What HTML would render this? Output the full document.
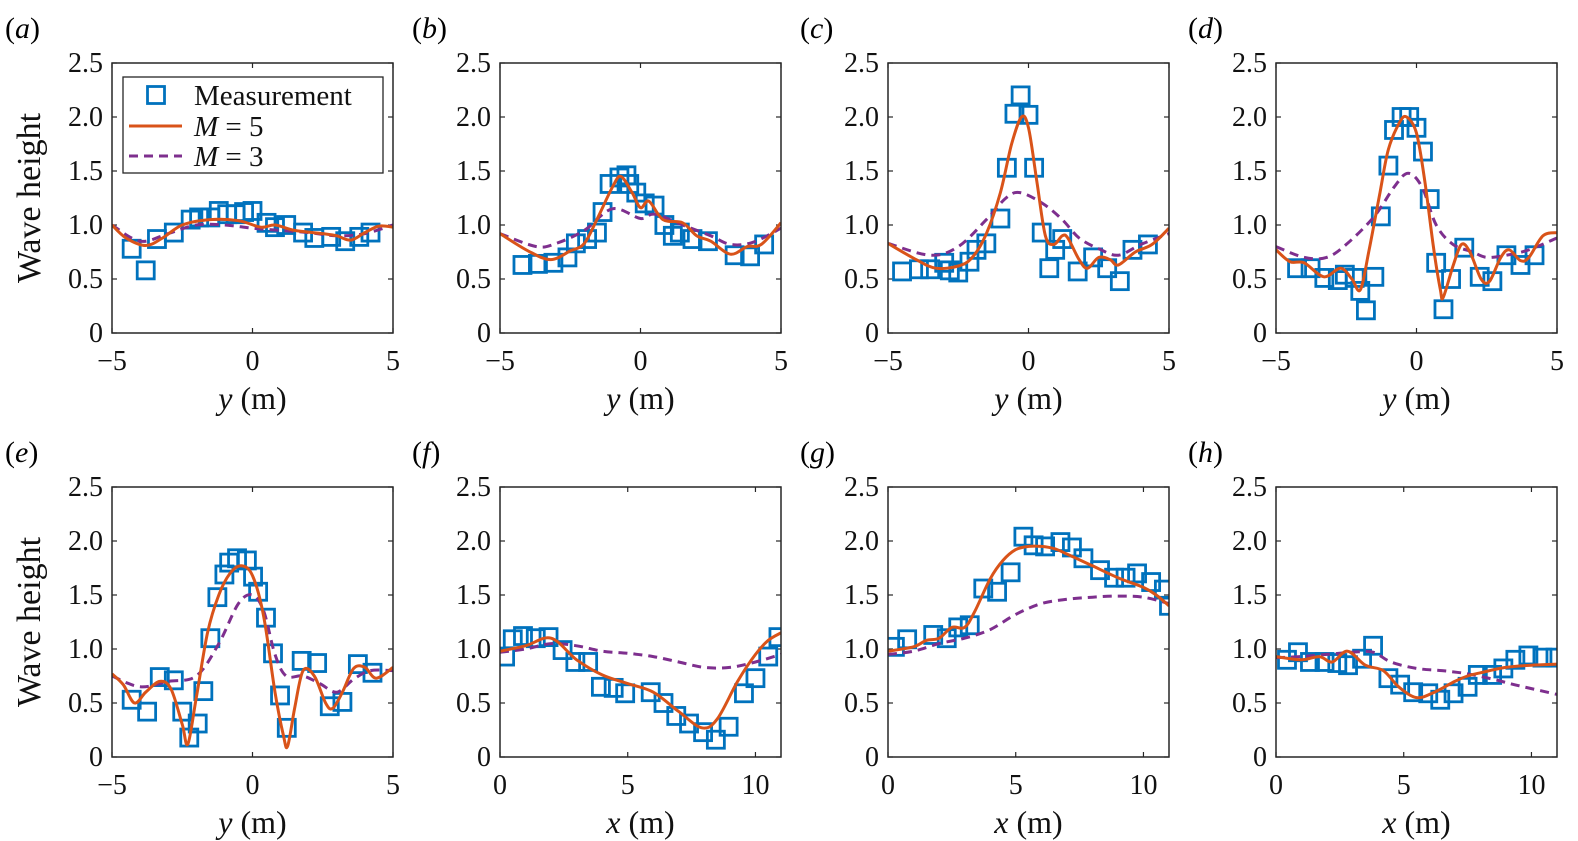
<!DOCTYPE html>
<html><head><meta charset="utf-8"><style>
body{margin:0;background:#fff;}
svg{display:block;}
svg text{font-family:"Liberation Serif","Times New Roman",Times,"DejaVu Serif",serif;}
</style></head><body>
<svg id="fig" width="1578" height="841" viewBox="0 0 1578 841" xmlns="http://www.w3.org/2000/svg"></svg>
<script>
// ---- data ----
const panelIds = ['a','b','c','d','e','f','g','h'];
const measA = [[-4.3,0.78],[-3.8,0.58],[-3.4,0.87],[-2.8,0.93],[-2.2,1.05],[-1.9,1.07],[-1.5,1.07],[-1.2,1.13],[-0.9,1.1],[-0.6,1.1],[-0.3,1.12],[0,1.13],[0.5,1.02],[0.8,0.98],[1.2,1.0],[1.8,0.93],[2.2,0.88],[2.8,0.89],[3.3,0.85],[3.8,0.89],[4.2,0.93]];
const m5A = [[-5,1.0],[-4.5,0.88],[-3.8,0.81],[-3.2,0.88],[-2.5,1.0],[-1.5,1.05],[-0.5,1.04],[0.3,0.98],[0.8,1.0],[1.5,0.95],[2.5,0.92],[3.0,0.9],[3.5,0.86],[4.0,0.93],[4.5,0.99],[5,0.98]];
const m3A = [[-5,1.0],[-4,0.85],[-3,0.92],[-2,1.0],[-1,1.0],[0,0.97],[1,0.95],[2,0.93],[3,0.9],[4,0.92],[5,1.0]];
const measB = [[-4.2,0.63],[-3.65,0.64],[-3.1,0.65],[-2.6,0.7],[-2.3,0.83],[-1.9,0.87],[-1.55,0.93],[-1.35,1.12],[-1.1,1.38],[-0.75,1.44],[-0.5,1.46],[-0.4,1.38],[-0.15,1.3],[0.15,1.2],[0.5,1.18],[0.85,1.0],[1.15,0.9],[1.4,0.93],[1.85,0.87],[2.4,0.85],[3.35,0.72],[3.9,0.71],[4.4,0.82]];
const m5B = [[-5,0.92],[-4,0.76],[-3.2,0.68],[-2.5,0.76],[-2,0.83],[-1.5,1.08],[-1,1.35],[-0.7,1.45],[-0.3,1.3],[0,1.16],[0.3,1.22],[0.8,1.05],[1.5,1.02],[2,0.9],[2.5,0.85],[3.2,0.73],[3.8,0.8],[4.3,0.82],[5,1.02]];
const m3B = [[-5,0.92],[-3.7,0.8],[-3,0.83],[-2,0.95],[-1,1.15],[0,1.06],[0.5,1.1],[1.5,1.0],[2.5,0.9],[3.2,0.82],[4,0.84],[5,0.97]];
const measC = [[-4.5,0.57],[-3.9,0.59],[-3.5,0.59],[-3.0,0.65],[-2.8,0.58],[-2.5,0.56],[-2.1,0.66],[-1.85,0.77],[-1.5,0.83],[-1.0,1.06],[-0.77,1.53],[-0.5,2.03],[-0.28,2.2],[0,2.02],[0.2,1.53],[0.47,0.93],[0.74,0.6],[0.95,0.77],[1.2,0.87],[1.75,0.57],[2.3,0.7],[2.8,0.6],[3.25,0.48],[3.7,0.77],[4.25,0.82]];
const m5C = [[-5,0.83],[-4,0.68],[-3.3,0.6],[-2.5,0.62],[-2,0.7],[-1.5,0.92],[-1,1.3],[-0.6,1.75],[-0.25,2.0],[0,1.9],[0.3,1.4],[0.6,0.9],[0.9,0.82],[1.2,0.9],[1.4,0.88],[1.8,0.68],[2.1,0.6],[2.5,0.7],[2.9,0.68],[3.2,0.63],[3.8,0.75],[4.4,0.82],[5,0.97]];
const m3C = [[-5,0.83],[-3.5,0.72],[-2.5,0.8],[-1.5,1.05],[-0.8,1.25],[-0.3,1.3],[0.5,1.2],[1.2,1.05],[1.8,0.88],[2.5,0.78],[3.2,0.72],[4,0.82],[5,0.92]];
const measD = [[-4.25,0.6],[-3.77,0.6],[-3.28,0.51],[-2.8,0.49],[-2.55,0.54],[-2.2,0.51],[-2.0,0.39],[-1.8,0.21],[-1.5,0.52],[-1.27,1.08],[-1.0,1.55],[-0.8,1.88],[-0.53,2.0],[-0.26,2.0],[0,1.9],[0.23,1.68],[0.47,1.24],[0.7,0.65],[0.96,0.22],[1.23,0.5],[1.7,0.79],[2.25,0.52],[2.7,0.48],[3.2,0.72],[3.7,0.63],[4.2,0.72]];
const m5D = [[-5,0.77],[-4.5,0.66],[-4,0.65],[-3.3,0.52],[-2.7,0.6],[-2.3,0.5],[-2,0.4],[-1.7,0.75],[-1.3,1.3],[-1,1.7],[-0.6,1.95],[-0.35,2.0],[0,1.85],[0.3,1.4],[0.6,0.8],[0.85,0.4],[0.95,0.33],[1.3,0.62],[1.6,0.82],[1.9,0.75],[2.3,0.5],[2.6,0.48],[3.0,0.7],[3.3,0.77],[3.7,0.67],[4.0,0.7],[4.5,0.9],[5,0.93]];
const m3D = [[-5,0.8],[-4,0.7],[-3.2,0.7],[-2.5,0.82],[-1.5,1.08],[-0.8,1.35],[-0.3,1.48],[0.2,1.35],[0.7,1.0],[1.3,0.82],[2,0.75],[2.5,0.7],[3.2,0.72],[4,0.77],[5,0.88]];
const measE = [[-4.3,0.53],[-3.75,0.42],[-3.3,0.74],[-2.8,0.71],[-2.5,0.42],[-2.25,0.18],[-1.95,0.31],[-1.75,0.61],[-1.5,1.1],[-1.25,1.48],[-1.0,1.69],[-0.83,1.8],[-0.55,1.84],[-0.2,1.82],[0.02,1.67],[0.2,1.53],[0.48,1.29],[0.73,0.96],[0.98,0.57],[1.22,0.27],[1.75,0.89],[2.3,0.87],[2.75,0.47],[3.2,0.51],[3.75,0.86],[4.27,0.78]];
const m5E = [[-5,0.77],[-4.6,0.67],[-4.2,0.5],[-3.8,0.6],[-3.3,0.7],[-2.9,0.63],[-2.5,0.3],[-2.3,0.12],[-2.0,0.55],[-1.6,1.15],[-1.2,1.5],[-0.8,1.7],[-0.4,1.77],[0,1.68],[0.4,1.3],[0.8,0.6],[1.1,0.2],[1.25,0.1],[1.5,0.45],[1.8,0.8],[2.2,0.75],[2.6,0.5],[2.85,0.45],[3.2,0.6],[3.6,0.82],[4.0,0.83],[4.4,0.73],[5,0.83]];
const m3E = [[-5,0.75],[-4,0.65],[-3,0.7],[-2,0.75],[-1.2,1.05],[-0.5,1.42],[0,1.5],[0.4,1.35],[0.8,0.95],[1.2,0.75],[1.8,0.75],[2.4,0.68],[3,0.6],[3.6,0.72],[4.2,0.8],[5,0.8]];
const measF = [[0.2,0.93],[0.5,1.09],[0.9,1.12],[1.4,1.1],[1.9,1.11],[2.45,0.99],[2.95,0.88],[3.45,0.88],[3.95,0.65],[4.45,0.64],[4.9,0.59],[5.9,0.6],[6.4,0.5],[6.9,0.38],[7.4,0.31],[7.95,0.23],[8.45,0.16],[8.95,0.28],[9.55,0.59],[10,0.73],[10.5,0.93],[10.9,1.11]];
const m5F = [[0,0.98],[1,1.03],[2,1.1],[3,0.9],[4,0.76],[5,0.68],[6,0.6],[7,0.42],[7.9,0.27],[8.5,0.35],[9.3,0.7],[10,0.95],[10.5,1.08],[11,1.15]];
const m3F = [[0,0.97],[1,1.0],[2,1.05],[3,1.03],[4,0.98],[5,0.96],[6,0.93],[7,0.88],[8,0.83],[9,0.83],[10,0.88],[11,0.95]];
const measG = [[0.27,1.02],[0.75,1.09],[1.77,1.13],[2.3,1.1],[2.75,1.2],[3.2,1.22],[3.73,1.56],[4.27,1.53],[4.8,1.71],[5.3,2.04],[5.7,1.96],[6.15,1.95],[6.75,1.99],[7.2,1.94],[7.65,1.84],[8.3,1.73],[8.85,1.66],[9.3,1.66],[9.75,1.7],[10.3,1.62],[10.8,1.55],[11.0,1.4]];
const m5G = [[0,0.98],[1,1.02],[1.5,1.08],[2,1.1],[2.5,1.2],[3,1.2],[3.4,1.35],[4,1.65],[4.5,1.82],[5,1.92],[5.5,1.95],[6,1.95],[6.5,1.93],[7,1.88],[8,1.77],[9,1.66],[10,1.57],[10.5,1.5],[11,1.4]];
const m3G = [[0,0.95],[1,0.98],[2,1.05],[3,1.1],[4,1.18],[5,1.32],[6,1.42],[7,1.46],[8,1.48],[9,1.49],[10,1.48],[11,1.42]];
const measH = [[0.43,0.9],[0.86,0.97],[1.33,0.88],[1.9,0.88],[2.4,0.87],[2.82,0.85],[3.37,0.91],[3.8,1.03],[4.4,0.73],[4.86,0.67],[5.37,0.6],[5.96,0.59],[6.43,0.53],[6.95,0.59],[7.5,0.65],[7.9,0.76],[8.46,0.76],[8.9,0.82],[9.37,0.9],[9.88,0.94],[10.43,0.92],[10.94,0.92]];
const m5H = [[0,0.93],[1,0.9],[1.7,0.93],[2.2,0.88],[2.8,0.98],[3.5,0.85],[4.2,0.8],[4.8,0.65],[5.5,0.55],[6.2,0.6],[7,0.7],[7.5,0.75],[8,0.78],[9,0.83],[10,0.85],[11,0.86]];
const m3H = [[0,0.92],[1,0.93],[2,0.95],[3,0.97],[3.8,0.97],[4.5,0.88],[5.5,0.82],[6.5,0.8],[7.5,0.77],[8.5,0.72],[9.5,0.66],[11,0.58]];
const yTicks = [0,0.5,1.0,1.5,2.0,2.5];
const yTickLabels = ['0','0.5','1.0','1.5','2.0','2.5'];
const xTicksY = [-5,0,5];
const xTickLabelsY = ['\u22125','0','5'];
const xTicksX = [0,5,10];
const xTickLabelsX = ['0','5','10'];

const measAll=[measA,measB,measC,measD,measE,measF,measG,measH];
const m5All=[m5A,m5B,m5C,m5D,m5E,m5F,m5G,m5H];
const m3All=[m3A,m3B,m3C,m3D,m3E,m3F,m3G,m3H];

const NS='http://www.w3.org/2000/svg';
const svg=document.getElementById('fig');
function mk(tag,attrs,parent){const e=document.createElementNS(NS,tag);for(const k in attrs)e.setAttribute(k,attrs[k]);(parent||svg).appendChild(e);return e;}
function smooth(pts){
  let d='M'+pts[0][0].toFixed(1)+','+pts[0][1].toFixed(1);
  for(let i=0;i<pts.length-1;i++){
    const p0=pts[Math.max(0,i-1)],p1=pts[i],p2=pts[i+1],p3=pts[Math.min(pts.length-1,i+2)];
    const c1x=p1[0]+(p2[0]-p0[0])/6,c1y=p1[1]+(p2[1]-p0[1])/6;
    const c2x=p2[0]-(p3[0]-p1[0])/6,c2y=p2[1]-(p3[1]-p1[1])/6;
    d+=' C'+c1x.toFixed(1)+','+c1y.toFixed(1)+' '+c2x.toFixed(1)+','+c2y.toFixed(1)+' '+p2[0].toFixed(1)+','+p2[1].toFixed(1);
  }
  return d;
}
const lefts=[112,500,888,1276], tops=[63,487], W=281, H=270;
panelIds.forEach((id,i)=>{
  const L=lefts[i%4], T=tops[Math.floor(i/4)], B=T+H, R=L+W;
  const isX = i>=5;
  const xmin=isX?0:-5, xmax=isX?11:5;
  const sx=v=>L+(v-xmin)/(xmax-xmin)*W;
  const sy=v=>B-v/2.5*H;
  const g=mk('g',{});
  
  
  const cid='clip'+id;
  const cp=mk('clipPath',{id:cid},g); mk('rect',{x:L,y:T,width:W,height:H},cp);
  const plx = (i%4===0)? L-107 : L-88;
  const pl=mk('text',{x:plx,y:T-25,'font-size':30},g);
  
  
  pl.innerHTML='(<tspan font-style="italic">'+id+'</tspan>)';
  yTicks.forEach((v,k)=>{
    const y=sy(v);
    mk('line',{x1:L,x2:L+5,y1:y,y2:y,stroke:'#262626','stroke-width':1.2},g);
    mk('line',{x1:R,x2:R-5,y1:y,y2:y,stroke:'#262626','stroke-width':1.2},g);
    const t=mk('text',{x:L-9,y:y+9,'font-size':28,'text-anchor':'end',fill:'#111'},g);
    
    
    t.textContent=yTickLabels[k];
  });
  const xt=isX?xTicksX:xTicksY, xl=isX?xTickLabelsX:xTickLabelsY;
  xt.forEach((v,k)=>{
    const x=sx(v);
    mk('line',{x1:x,x2:x,y1:B,y2:B-5,stroke:'#262626','stroke-width':1.2},g);
    mk('line',{x1:x,x2:x,y1:T,y2:T+5,stroke:'#262626','stroke-width':1.2},g);
    const t=mk('text',{x:x,y:B+37,'font-size':28,'text-anchor':'middle',fill:'#111'},g);
    
    
    t.textContent=xl[k];
  });
  const xtl=mk('text',{x:L+W/2,y:B+76,'font-size':32,'text-anchor':'middle',fill:'#111'},g);
  
  
  xtl.innerHTML='<tspan font-style="italic">'+(isX?'x':'y')+'</tspan> (m)';
  if(i%4===0){
    const yt=mk('text',{x:0,y:0,'font-size':34,'text-anchor':'middle',fill:'#111',transform:'translate(40,'+(T+H/2)+') rotate(-90)'},g);
    
    
    yt.textContent='Wave height';
  }
  const plot=mk('g',{'clip-path':'url(#'+cid+')'},g);
  measAll[i].forEach(p=>{
    const r=mk('rect',{x:sx(p[0])-8.5,y:sy(p[1])-8.5,width:17,height:17,fill:'none',stroke:'#0072BD','stroke-width':2.8},plot);
    
    
  });
  const l3=mk('path',{d:smooth(m3All[i].map(p=>[sx(p[0]),sy(p[1])])),fill:'none',stroke:'#7E2F8E','stroke-width':3,'stroke-dasharray':'9,6'},plot);
  
  
  const l5=mk('path',{d:smooth(m5All[i].map(p=>[sx(p[0]),sy(p[1])])),fill:'none',stroke:'#D95319','stroke-width':3},plot);
  
  
  mk('rect',{x:L,y:T,width:W,height:H,fill:'none',stroke:'#262626','stroke-width':1.5},g);
  if(i===0){
    const lg=mk('g',{},g);
    
    
    mk('rect',{x:123,y:77,width:260,height:96,fill:'#fff',stroke:'#262626','stroke-width':1.3},lg);
    mk('rect',{x:147.5,y:86.5,width:17,height:17,fill:'none',stroke:'#0072BD','stroke-width':2.8},lg);
    mk('line',{x1:129,x2:182,y1:126,y2:126,stroke:'#D95319','stroke-width':3},lg);
    mk('line',{x1:129,x2:182,y1:156,y2:156,stroke:'#7E2F8E','stroke-width':3,'stroke-dasharray':'9,6'},lg);
    const t1=mk('text',{x:194,y:105,'font-size':29,fill:'#111'},lg);t1.textContent='Measurement';
    
    
    const t2=mk('text',{x:194,y:136,'font-size':29,fill:'#111'},lg);t2.innerHTML='<tspan font-style="italic">M</tspan> = 5';
    
    
    const t3=mk('text',{x:194,y:166,'font-size':29,fill:'#111'},lg);t3.innerHTML='<tspan font-style="italic">M</tspan> = 3';
    
    
  }
});
</script>
</body></html>
